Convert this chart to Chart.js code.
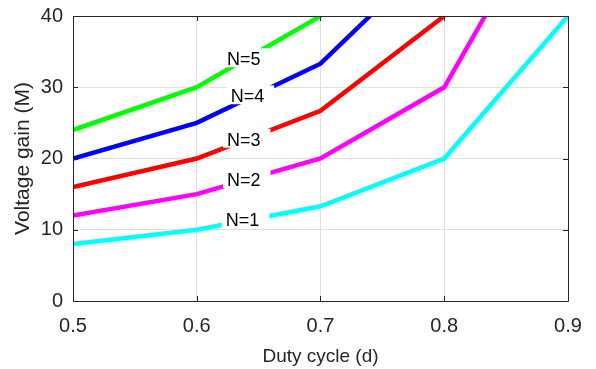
<!DOCTYPE html>
<html>
<head>
<meta charset="utf-8">
<script src="https://cdn.jsdelivr.net/npm/chart.js@4.4.1/dist/chart.umd.min.js"></script>
<style>
    html, body { margin: 0; padding: 0; background: #fff; }
    #wrap { width: 596px; height: 369px; }
</style>
</head>
<body>
<div id="wrap"><canvas id="grafico" width="596" height="369"></canvas></div>
<script>
// ============================================================================
// DADOS
// ============================================================================
const xTicks = [0.5, 0.6, 0.7, 0.8, 0.9];
const yTicks = [0, 10, 20, 30, 40];

const dutyN1 = [0.5, 0.6, 0.7, 0.8, 0.9];
const gainN1 = [8, 10, 13.3, 20, 40];

const dutyN2 = [0.5, 0.6, 0.7, 0.8, 0.833];
const gainN2 = [12, 15, 20, 30, 40];

const dutyN3 = [0.5, 0.6, 0.7, 0.8];
const gainN3 = [16, 20, 26.7, 40];

const dutyN4 = [0.5, 0.6, 0.7, 0.74];
const gainN4 = [20, 25, 33.3, 40];

const dutyN5 = [0.5, 0.6, 0.7];
const gainN5 = [24, 30, 40];

// rótulos N=1..N=5 (posição do centro do texto, em coordenadas dos dados)
const labelText = ['N=1', 'N=2', 'N=3', 'N=4', 'N=5'];
const labelX = [0.637, 0.638, 0.638, 0.641, 0.638];
const labelY = [11.4, 17.0, 22.7, 28.8, 34.0];

const seriesColors = ['#00ffff', '#ff00ff', '#ff0000', '#0000ff', '#00ff00'];
const FONT = "'Liberation Sans', Arial, Helvetica, sans-serif";
const AXIS_COLOR = '#262626';


// ============================================================================
// MONTA DATASETS
// ============================================================================
function pares(xs, ys) {
    return xs.map((x, i) => ({ x, y: ys[i] }));
}

const series = [
    pares(dutyN1, gainN1),
    pares(dutyN2, gainN2),
    pares(dutyN3, gainN3),
    pares(dutyN4, gainN4),
    pares(dutyN5, gainN5)
];

const datasets = series.map((pts, i) => ({
    label: labelText[i],
    data: pts,
    borderColor: seriesColors[i],
    backgroundColor: seriesColors[i],
    borderWidth: 4.5,
    pointRadius: 0,
    tension: 0,
    clip: 0
}));


// ============================================================================
// PLUGIN – caixas brancas com os rótulos
// ============================================================================
const rotulosPlugin = {
    id: 'rotulos',
    afterDatasetsDraw(chart) {
        const { ctx, scales: { x, y } } = chart;
        const size = 18;
        ctx.save();
        ctx.font = size + 'px ' + FONT;
        ctx.textAlign = 'left';
        ctx.textBaseline = 'alphabetic';

        labelText.forEach((txt, i) => {
            const cx = x.getPixelForValue(labelX[i]);
            const cy = y.getPixelForValue(labelY[i]);
            const w = ctx.measureText(txt).width;
            const capH = size * 0.716;
            const left = cx - w / 2;
            const base = cy + capH / 2;

            ctx.fillStyle = '#ffffff';
            ctx.fillRect(left - 4, base - capH - 4, w + 14, capH + 6);

            ctx.fillStyle = '#000000';
            ctx.fillText(txt, left, base);
        });
        ctx.restore();
    }
};


// ============================================================================
// PLUGIN – moldura e marcas internas (estilo "box on")
// ============================================================================
const molduraPlugin = {
    id: 'moldura',
    afterDatasetsDraw(chart) {
        const { ctx, chartArea: a, scales: { x, y } } = chart;
        const tk = 5;
        ctx.save();
        ctx.strokeStyle = AXIS_COLOR;
        ctx.lineWidth = 1;
        ctx.beginPath();
        ctx.rect(Math.round(a.left) + 0.5, Math.round(a.top) + 0.5,
                 Math.round(a.right - a.left), Math.round(a.bottom - a.top));

        xTicks.forEach(v => {
            const px = Math.round(x.getPixelForValue(v)) + 0.5;
            ctx.moveTo(px, a.bottom); ctx.lineTo(px, a.bottom - tk);
            ctx.moveTo(px, a.top); ctx.lineTo(px, a.top + tk);
        });
        yTicks.forEach(v => {
            const py = Math.round(y.getPixelForValue(v)) + 0.5;
            ctx.moveTo(a.left, py); ctx.lineTo(a.left + tk, py);
            ctx.moveTo(a.right, py); ctx.lineTo(a.right - tk, py);
        });
        ctx.stroke();
        ctx.restore();
    }
};


// ============================================================================
// GRÁFICO
// ============================================================================
const ctx = document.getElementById('grafico');

new Chart(ctx, {
    type: 'line',
    data: { datasets },
    options: {
        responsive: false,
        animation: false,
        devicePixelRatio: 1,
        layout: { padding: { top: 16, right: 28, left: 0, bottom: 0 } },
        plugins: {
            legend: { display: false },
            tooltip: { enabled: false }
        },
        scales: {
            x: {
                type: 'linear',
                min: 0.5,
                max: 0.9,
                afterBuildTicks: s => { s.ticks = xTicks.map(v => ({ value: v })); },
                afterFit: s => {
                    s.height = 68;
                    s.paddingLeft = 0;
                    s.paddingRight = 0;
                },
                grid: { color: '#e0e0e0', drawTicks: false },
                border: { display: false },
                ticks: {
                    color: AXIS_COLOR,
                    font: { family: FONT, size: 20 },
                    padding: 13,
                    maxRotation: 0,
                    callback: v => v.toFixed(1)
                },
                title: {
                    display: true,
                    text: 'Duty cycle (d)',
                    color: AXIS_COLOR,
                    font: { family: FONT, size: 19 },
                    padding: { top: 0, bottom: 1 }
                }
            },
            y: {
                type: 'linear',
                min: 0,
                max: 40,
                afterBuildTicks: s => { s.ticks = yTicks.map(v => ({ value: v })); },
                afterFit: s => {
                    s.width = 73;
                    s.paddingTop = 0;
                    s.paddingBottom = 0;
                },
                grid: { color: '#e0e0e0', drawTicks: false },
                border: { display: false },
                ticks: {
                    color: AXIS_COLOR,
                    font: { family: FONT, size: 20 },
                    padding: 10
                },
                title: {
                    display: true,
                    text: 'Voltage gain (M)',
                    color: AXIS_COLOR,
                    font: { family: FONT, size: 21 },
                    padding: { top: 11, bottom: 0 }
                }
            }
        }
    },
    plugins: [rotulosPlugin, molduraPlugin]
});
</script>
</body>
</html>
